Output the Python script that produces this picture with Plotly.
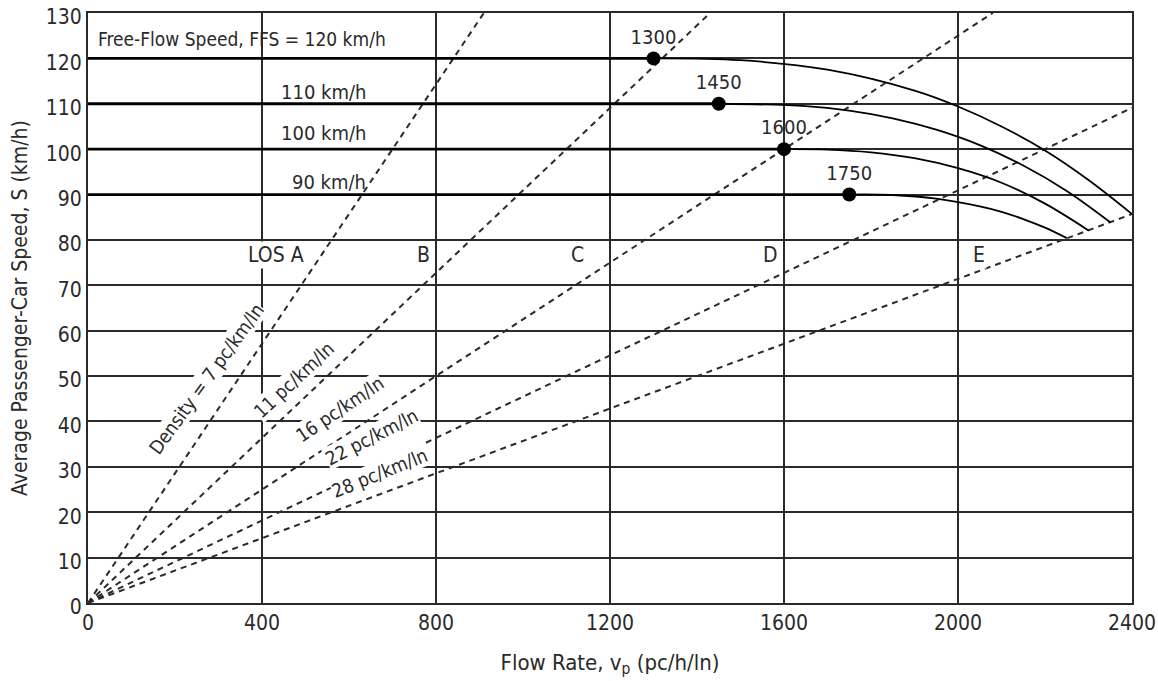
import plotly.graph_objects as go

# ---- data ----
ffs = [120, 110, 100, 90]
breakpoints = [1300, 1450, 1600, 1750]
capacity_flow = [2400, 2350, 2300, 2250]

curve_flow = {
    120: [1300, 1500, 1700, 1900, 2000, 2100, 2200, 2300, 2400],
    110: [1450, 1650, 1750, 1850, 1950, 2050, 2150, 2250, 2350],
    100: [1600, 1700, 1800, 1900, 2000, 2100, 2200, 2300],
    90:  [1750, 1850, 1950, 2050, 2100, 2150, 2200, 2250],
}
curve_speed = {
    120: [120, 119.6, 117.5, 112.9, 109.4, 105.0, 99.7, 93.2, 85.7],
    110: [110, 109.5, 108.5, 106.8, 104.3, 100.9, 96.4, 90.8, 83.9],
    100: [100, 99.9, 99.3, 98.0, 95.8, 92.6, 88.0, 82.1],
    90:  [90, 89.9, 89.1, 87.4, 86.2, 84.6, 82.7, 80.4],
}

density = [7, 11, 16, 22, 28]
density_end_flow = [910, 1430, 2080, 2400, 2400]
density_end_speed = [130, 130, 130, 109.1, 85.7]
density_labels = ["Density = 7 pc/km/ln", "11 pc/km/ln", "16 pc/km/ln",
                  "22 pc/km/ln", "28 pc/km/ln"]
density_label_x = [271, 472, 578, 651, 669]
density_label_y = [49.4, 49.2, 42.8, 36.6, 28.7]
density_label_angle = [-54, -43, -34, -27, -22]

los_labels = ["LOS A", "B", "C", "D", "E"]
los_x = [432, 771, 1125, 1570, 2049]
los_y = [76.7] * 5

speed_labels = ["110 km/h", "100 km/h", "90 km/h"]
speed_label_y = [112.6, 103.6, 92.8]

x_ticks = [0, 400, 800, 1200, 1600, 2000, 2400]
y_ticks = list(range(0, 131, 10))

FONT = "Liberation Sans Narrow, DejaVu Sans Condensed, Arial Narrow, sans-serif"
INK = "#2a2a2a"

fig = go.Figure()

# density lines
for d, xf, ys in zip(density, density_end_flow, density_end_speed):
    fig.add_trace(go.Scatter(x=[0, xf], y=[0, ys], mode="lines",
                             line=dict(color=INK, width=2, dash="6px,5px"),
                             hoverinfo="skip", showlegend=False))

# FFS horizontal segments and curves
for f, bp in zip(ffs, breakpoints):
    fig.add_trace(go.Scatter(x=[0, bp], y=[f, f], mode="lines",
                             line=dict(color="black", width=2.8),
                             showlegend=False))
    fig.add_trace(go.Scatter(x=curve_flow[f], y=curve_speed[f], mode="lines",
                             line=dict(color="black", width=1.8, shape="spline"),
                             showlegend=False))

# breakpoint markers
fig.add_trace(go.Scatter(x=breakpoints, y=ffs, mode="markers+text",
                         marker=dict(color="black", size=14),
                         text=[str(b) for b in breakpoints],
                         textposition="top center",
                         textfont=dict(family=FONT, size=20, color=INK),
                         showlegend=False))

annotations = []
annotations.append(dict(x=19, y=124.3, text="Free-Flow Speed, FFS = 120 km/h",
                        xanchor="left", yanchor="middle", showarrow=False,
                        font=dict(family=FONT, size=19, color=INK)))
for t, yv in zip(speed_labels, speed_label_y):
    annotations.append(dict(x=644, y=yv, text=t, xanchor="right", yanchor="middle",
                            showarrow=False, font=dict(family=FONT, size=20, color=INK)))
for t, xv, yv in zip(los_labels, los_x, los_y):
    annotations.append(dict(x=xv, y=yv, text=t, xanchor="center", yanchor="middle",
                            showarrow=False, bgcolor="white", borderpad=1,
                            font=dict(family=FONT, size=21, color=INK)))
for t, xv, yv, a in zip(density_labels, density_label_x, density_label_y, density_label_angle):
    annotations.append(dict(x=xv, y=yv, text=t, textangle=a, xanchor="center",
                            yanchor="middle", showarrow=False, bgcolor="white",
                            borderpad=0, font=dict(family=FONT, size=19, color=INK)))

fig.update_layout(
    width=1158, height=681,
    margin=dict(l=88, r=26, t=13, b=78),
    paper_bgcolor="white", plot_bgcolor="white",
    font=dict(family=FONT, color=INK),
    annotations=annotations,
    showlegend=False,
)
fig.update_xaxes(range=[0, 2400], tickvals=x_ticks, ticktext=[str(v) for v in x_ticks],
                 showgrid=True, gridcolor=INK, gridwidth=1.5, zeroline=False,
                 showline=True, linecolor=INK, linewidth=2, mirror=True,
                 ticks="", ticklabeloverflow="allow", automargin=False,
                 tickfont=dict(family=FONT, size=21, color=INK),
                 title=dict(text="Flow Rate, v<sub>p</sub> (pc/h/ln)",
                            font=dict(family=FONT, size=22, color=INK), standoff=20))
fig.update_yaxes(range=[0, 130], tickvals=y_ticks, ticktext=[str(v) for v in y_ticks],
                 showgrid=True, gridcolor=INK, gridwidth=1.5, zeroline=False,
                 showline=True, linecolor=INK, linewidth=2, mirror=True,
                 ticks="", ticklabeloverflow="allow", automargin=False, ticklabelshift=4,
                 tickfont=dict(family=FONT, size=21, color=INK),
                 title=dict(text="Average Passenger-Car Speed, S (km/h)",
                            font=dict(family=FONT, size=21, color=INK), standoff=12))

# remove the default page margin so the figure fills the window exactly
fig.write_html("out.html", config={"displayModeBar": False},
               post_script="document.body.style.margin='0';document.body.style.overflow='hidden';")
